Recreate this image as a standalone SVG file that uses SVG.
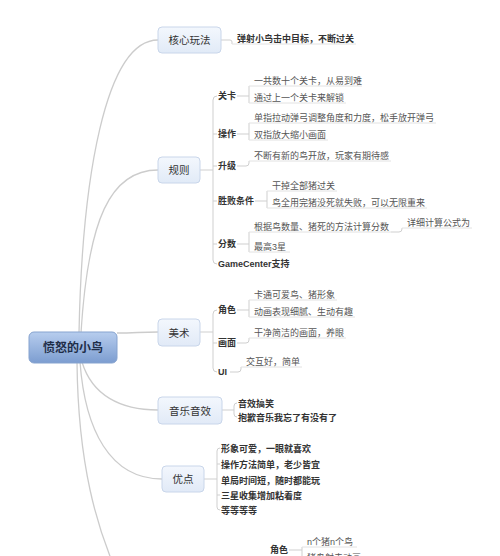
<svg xmlns="http://www.w3.org/2000/svg" width="500" height="556" viewBox="0 0 500 556">
<defs>
<linearGradient id="rootGrad" x1="0" y1="0" x2="0" y2="1"><stop offset="0" stop-color="#b7cdee"/><stop offset="1" stop-color="#7c9dd0"/></linearGradient>
<linearGradient id="nodeGrad" x1="0" y1="0" x2="0" y2="1"><stop offset="0" stop-color="#f3f7fd"/><stop offset="1" stop-color="#e1eaf7"/></linearGradient>
</defs>
<style>
text{font-family:"Liberation Sans","Noto Sans CJK SC",sans-serif;}
.root{fill:url(#rootGrad);stroke:#86a3cf;stroke-width:1;}
.rt{font-size:12px;font-weight:bold;fill:#1e2d48;text-anchor:middle;}
.n1{fill:url(#nodeGrad);stroke:#c9d6ea;stroke-width:1;}
.t1{font-size:10.5px;fill:#333;text-anchor:middle;}
.lb{font-size:9px;font-weight:bold;fill:#333;}
.lf{font-size:9px;fill:#555;}
.lfb{font-size:9px;font-weight:bold;fill:#333;}
.main{fill:none;stroke:#cccccc;stroke-width:1.3;}
.sub{fill:none;stroke:#cfcfcf;stroke-width:1;}
.ul{fill:none;stroke:#e2e2e2;stroke-width:1;}
</style>
<rect width="500" height="556" fill="#ffffff"/>
<g id="connectors">
<path class="main" d="M79,333 C82,180 105,40 158,40"/>
<path class="main" d="M81,333 C88,220 110,170 158,170"/>
<path class="main" d="M117,333 C135,333 140,332 158,332"/>
<path class="main" d="M82,362 C92,395 120,410 158,410"/>
<path class="main" d="M80,362 C85,430 110,479 162,479"/>
<path class="main" d="M77,362 C78,460 95,530 125,590"/>
<path class="sub" d="M221,40 H230 Q232,40 232,42 V44"/>
<path class="ul" d="M232,44 H356"/>
<path class="sub" d="M200,170 H213"/>
<path class="sub" d="M217,96 Q213,96 213,100 V260 Q213,264 217,264"/>
<path class="sub" d="M213,134 H217 M213,166 H217 M213,201 H217 M213,244 H217"/>
<path class="sub" d="M237,96 H249 M249,86 V103"/>
<path class="ul" d="M249,86 H362 M249,103 H346"/>
<path class="sub" d="M237,134 H249 M249,123 V140"/>
<path class="ul" d="M249,123 H436 M249,140 H328"/>
<path class="sub" d="M237,166 H246 Q249,166 249,163 V161"/>
<path class="ul" d="M249,161 H391"/>
<path class="sub" d="M255,201 H267 M267,191 V208"/>
<path class="ul" d="M267,191 H337 M267,208 H427"/>
<path class="sub" d="M237,244 H249 M249,232 V252"/>
<path class="ul" d="M249,232 H391 M249,252 H290"/>
<path class="sub" d="M391,232 H399 Q402,232 402,229 V228"/>
<path class="ul" d="M402,228 H472"/>
<path class="sub" d="M200,332 H213"/>
<path class="sub" d="M217,310 Q213,310 213,314 V368 Q213,372 217,372"/>
<path class="sub" d="M213,343 H217"/>
<path class="sub" d="M237,310 H249 M249,300 V317"/>
<path class="ul" d="M249,300 H337 M249,317 H355"/>
<path class="sub" d="M237,343 H246 Q249,343 249,340 V338"/>
<path class="ul" d="M249,338 H346"/>
<path class="sub" d="M230,372 H238 Q241,372 241,369 V367"/>
<path class="ul" d="M241,367 H302"/>
<path class="sub" d="M222,410 H234"/>
<path class="sub" d="M237,403 Q234,403 234,406 V414 Q234,417 237,417"/>
<path class="sub" d="M204,479 H217"/>
<path class="sub" d="M220,448 Q217,448 217,451 V507 Q217,510 220,510"/>
<path class="sub" d="M217,464 H220 M217,495 H220"/>
<path class="sub" d="M289,550 H302 M302,547 V570"/>
<path class="ul" d="M302,547 H357 M302,563 H370"/>
</g>
<g id="root"><rect class="root" x="29" y="332" width="88" height="31" rx="5"/><text class="rt" x="73" y="352">愤怒的小鸟</text></g>
<g id="n-core"><rect class="n1" x="158" y="27" width="63" height="26" rx="4"/><text class="t1" x="189.5" y="44">核心玩法</text></g>
<g id="n-rules"><rect class="n1" x="158" y="157" width="42" height="26" rx="4"/><text class="t1" x="179" y="174">规则</text></g>
<g id="n-art"><rect class="n1" x="158" y="319" width="42" height="27" rx="4"/><text class="t1" x="179" y="336.5">美术</text></g>
<g id="n-music"><rect class="n1" x="158" y="397" width="64" height="27" rx="4"/><text class="t1" x="190" y="414.5">音乐音效</text></g>
<g id="n-pros"><rect class="n1" x="162" y="466" width="42" height="26" rx="4"/><text class="t1" x="183" y="483">优点</text></g>
<g id="core-leaf"><text class="lfb" x="237" y="41.5">弹射小鸟击中目标，不断过关</text></g>
<g id="rules-sub">
<text class="lb" x="218" y="98.5">关卡</text>
<text class="lf" x="254" y="83.5">一共数十个关卡，从易到难</text>
<text class="lf" x="254" y="100.5">通过上一个关卡来解锁</text>
<text class="lb" x="218" y="136.5">操作</text>
<text class="lf" x="254" y="120.5">单指拉动弹弓调整角度和力度，松手放开弹弓</text>
<text class="lf" x="254" y="137.5">双指放大缩小画面</text>
<text class="lb" x="218" y="168.5">升级</text>
<text class="lf" x="254" y="158.5">不断有新的鸟开放，玩家有期待感</text>
<text class="lb" x="218" y="203.5">胜败条件</text>
<text class="lf" x="272" y="188.5">干掉全部猪过关</text>
<text class="lf" x="272" y="205.5">鸟全用完猪没死就失败，可以无限重来</text>
<text class="lb" x="218" y="246.5">分数</text>
<text class="lf" x="254" y="229.5">根据鸟数量、猪死的方法计算分数</text>
<text class="lf" x="407" y="225.5">详细计算公式为</text>
<text class="lf" x="254" y="249.5">最高3星</text>
<text class="lb" x="218" y="266.5">GameCenter支持</text>
</g>
<g id="art-sub">
<text class="lb" x="218" y="312.5">角色</text>
<text class="lf" x="254" y="297.5">卡通可爱鸟、猪形象</text>
<text class="lf" x="254" y="314.5">动画表现细腻、生动有趣</text>
<text class="lb" x="218" y="345.5">画面</text>
<text class="lf" x="254" y="335.5">干净简洁的画面，养眼</text>
<text class="lb" x="218" y="374.5">UI</text>
<text class="lf" x="246" y="364.5">交互好，简单</text>
</g>
<g id="music-sub">
<text class="lfb" x="238" y="406.5">音效搞笑</text>
<text class="lfb" x="238" y="420.5">抱歉音乐我忘了有没有了</text>
</g>
<g id="pros-sub">
<text class="lfb" x="221" y="451.5">形象可爱，一眼就喜欢</text>
<text class="lfb" x="221" y="467.5">操作方法简单，老少皆宜</text>
<text class="lfb" x="221" y="483.5">单局时间短，随时都能玩</text>
<text class="lfb" x="221" y="498.5">三星收集增加粘着度</text>
<text class="lfb" x="221" y="513.5">等等等等</text>
</g>
<g id="bottom-sub">
<text class="lb" x="270" y="552.5">角色</text>
<text class="lf" x="307" y="544.5">n个猪n个鸟</text>
<text class="lf" x="307" y="561">猪鸟射击动画</text>
</g>
</svg>
